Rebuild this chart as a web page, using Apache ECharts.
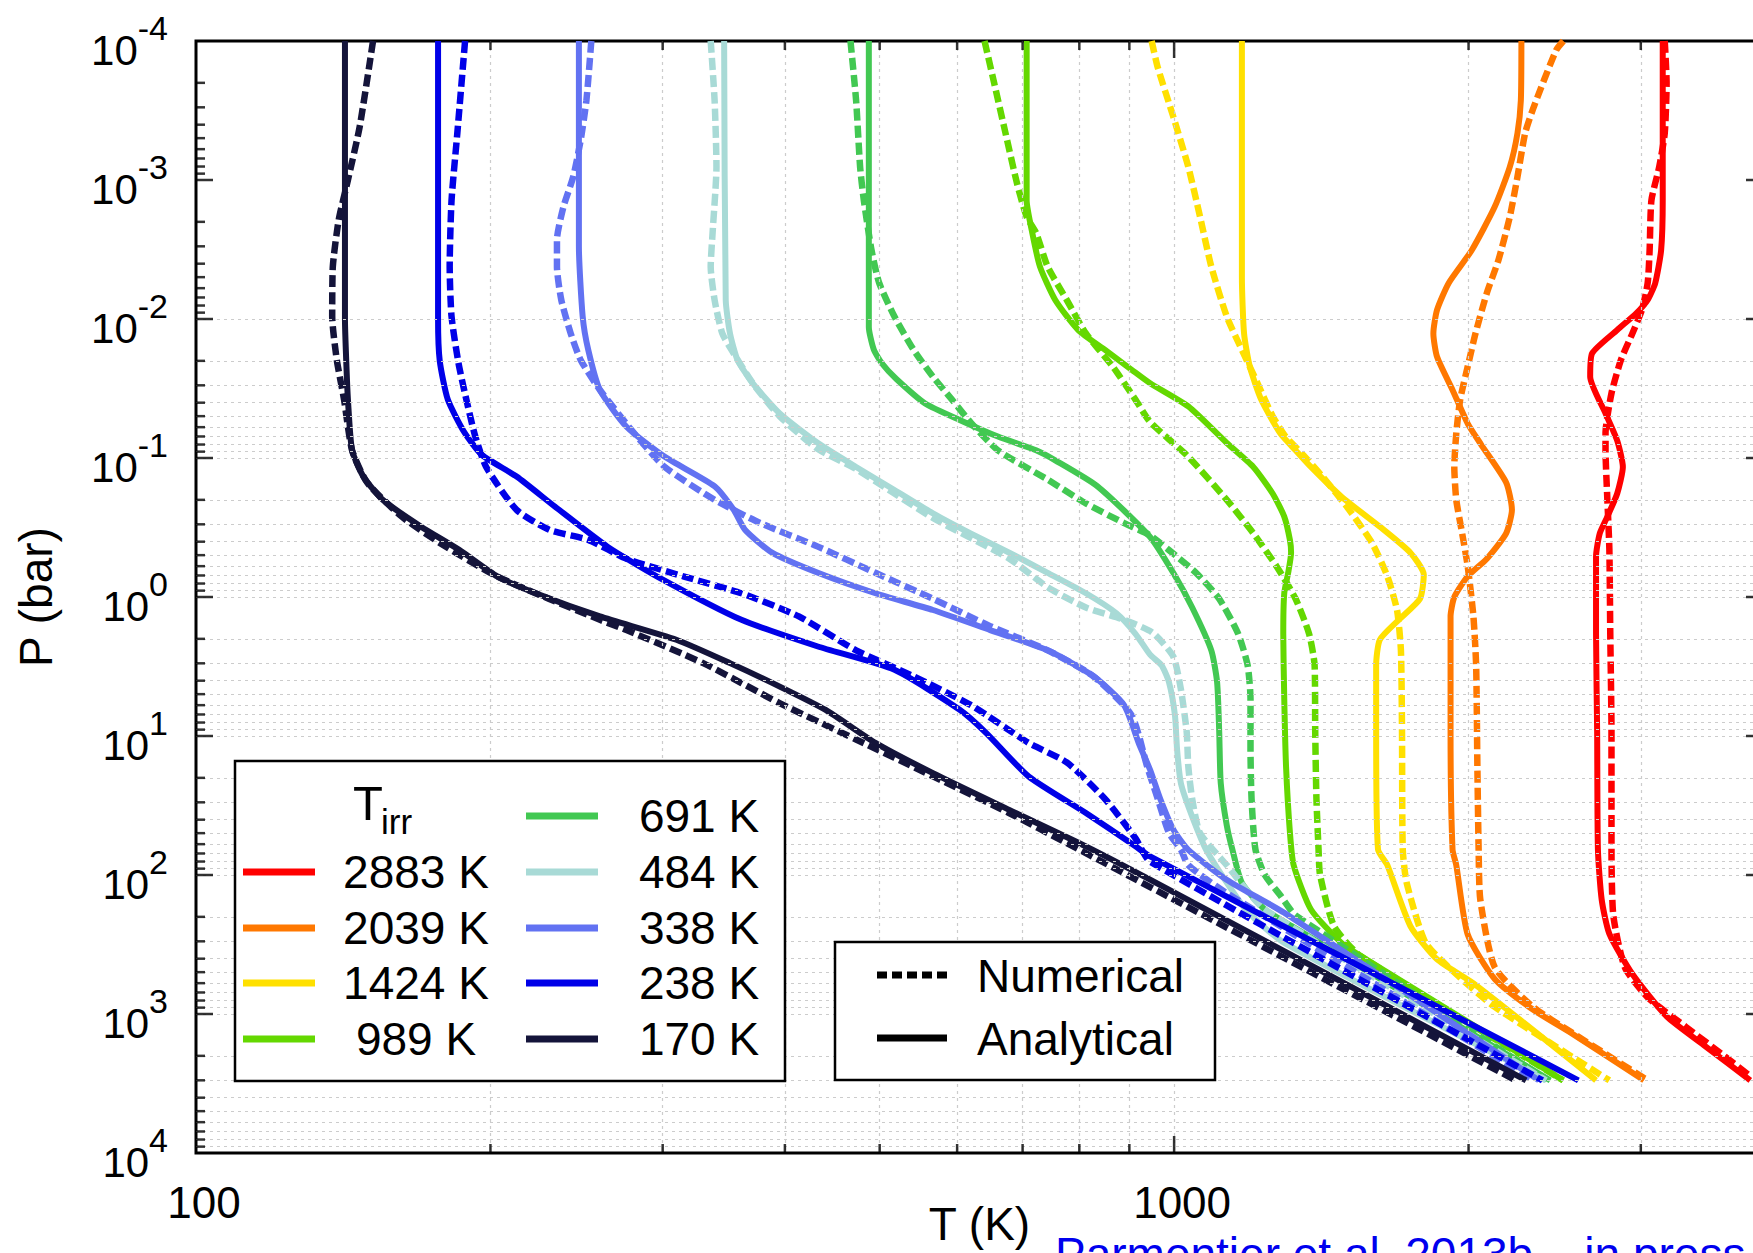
<!DOCTYPE html>
<html><head><meta charset="utf-8">
<script src="https://cdn.jsdelivr.net/npm/echarts@6/dist/echarts.min.js"></script>
<style>html,body{margin:0;padding:0;background:#fff}#main{width:1753px;height:1253px}</style>
</head><body><div id="main"></div>
<script>
// ---------------- DATA (T in K, P in bar) ----------------
const tirrValues = [2883, 2039, 1424, 989, 691, 484, 338, 238, 170];

const ana2883 = [[3159,1e-4],[3159,1.4e-3],[3147,3.2e-3],[3104,5.5e-3],[3049,7.3e-3],[2968,9.1e-3],[2838,0.012],[2675,0.0177],[2663,0.026],[2761,0.0478],[2838,0.075],[2876,0.116],[2838,0.18],[2773,0.264],[2724,0.348],[2700,0.51],[2700,1.84],[2707,9.3],[2712,65.6],[2736,150],[2786,265],[2941,515],[3188,1040],[3490,1700],[3882,3000]];
const num2883 = [[3174,1e-4],[3188,2e-4],[3174,4.6e-4],[3133,8.05e-4],[3076,1.4e-3],[3063,3.2e-3],[3049,5.5e-3],[3008,8.6e-3],[2941,0.0127],[2863,0.0197],[2800,0.0342],[2761,0.0665],[2761,0.088],[2773,0.2],[2786,0.45],[2792,1.84],[2800,9.3],[2800,65.6],[2812,195],[2889,460],[3049,760],[3337,1240],[3650,2000],[3882,2800]];

const ana2039 = [[2265,1e-4],[2262,2.67e-4],[2244,4.6e-4],[2204,8.05e-4],[2127,1.56e-3],[2015,3.2e-3],[1909,5.5e-3],[1857,8.6e-3],[1841,0.0127],[1857,0.0187],[1926,0.0324],[1996,0.0565],[2060,0.08],[2185,0.15],[2215,0.236],[2185,0.348],[2088,0.53],[1996,0.71],[1934,1.0],[1917,1.38],[1917,9.3],[1926,65.6],[1943,85],[1996,268],[2127,560],[2327,929],[2546,1370],[3022,3000]];
const num2039 = [[2500,1e-4],[2457,1.17e-4],[2327,3.1e-4],[2285,4.6e-4],[2244,9.5e-4],[2204,1.84e-3],[2146,3.76e-3],[2088,6.5e-3],[2033,0.0127],[1996,0.022],[1961,0.038],[1943,0.0665],[1934,0.116],[1943,0.2],[1970,0.348],[1996,0.6],[2023,1.38],[2036,3.1],[2042,16.6],[2048,65.6],[2056,150],[2127,460],[2327,888],[2546,1350],[3049,3000]];

const ana1424 = [[1173,1e-4],[1173,5e-3],[1179,0.0127],[1195,0.022],[1227.5,0.038],[1284,0.0665],[1331,0.088],[1380,0.116],[1483,0.19],[1623,0.312],[1744,0.48],[1800,0.69],[1784,1.03],[1697,1.46],[1623,2.03],[1609,3.1],[1609,9.3],[1616,65.6],[1652,85],[1744,233],[1857,404],[2033,617],[2700,3000]];
const num1424 = [[948.5,1e-4],[962,1.54e-4],[998,3.5e-4],[1034,8.05e-4],[1063,1.84e-3],[1091.5,4.2e-3],[1132,9.6e-3],[1173,0.0167],[1217,0.029],[1261,0.05],[1300,0.07],[1355,0.095],[1418,0.136],[1510,0.236],[1594,0.41],[1652,0.71],[1690,1.24],[1705.6,2.42],[1710,9.3],[1713,65.6],[1729,114],[1808,308],[1943,517],[2127,888],[2786,3000]];

const ana989 = [[706.7,1e-4],[706.7,1.4e-3],[716.1,2.4e-3],[729.2,4.2e-3],[755.9,7.3e-3],[798,0.012],[850,0.0167],[905,0.0232],[945,0.029],[1034,0.0426],[1132,0.078],[1205,0.116],[1261,0.18],[1296,0.264],[1313.5,0.39],[1317,0.48],[1308,0.67],[1296,0.94],[1293,1.84],[1296,5.4],[1301.5,16.6],[1313.5,49.8],[1325,85],[1380,177],[1483,308],[1594,430],[2499,3000]];
const num989 = [[640,1e-4],[654.6,2.0e-4],[672.4,4.6e-4],[690.9,1.06e-3],[706.7,1.84e-3],[722.6,2.4e-3],[742.5,4.2e-3],[776.7,7.3e-3],[812.5,0.0127],[865.5,0.022],[913,0.038],[945,0.055],[1034,0.098],[1132,0.2],[1205,0.348],[1272.5,0.6],[1331,1.03],[1374,1.84],[1392,3.1],[1394,9.3],[1398,28.4],[1405,65.6],[1410,100],[1457,233],[1551,383],[2499,3000]];

const ana691 = [[487.4,1e-4],[487.4,0.0114],[493,0.0165],[503,0.021],[520,0.027],[556.5,0.0405],[603.6,0.0532],[660.5,0.0701],[722.6,0.088],[755.9,0.104],[835,0.16],[945,0.37],[998,0.67],[1043.5,1.19],[1091.5,2.42],[1106.5,4.1],[1112,9.3],[1116,21.8],[1132,44],[1147,65.6],[1173,114],[1238,177],[1319,233],[2424,3000]];
const num691 = [[466.8,1e-4],[473,2.67e-4],[477.5,8.05e-4],[481.7,1.4e-3],[490.5,3.2e-3],[499.4,5.5e-3],[517.7,9.6e-3],[541.7,0.0167],[566.8,0.026],[592.8,0.038],[620,0.056],[660.5,0.088],[742.5,0.143],[812.5,0.212],[889,0.294],[945,0.36],[988,0.46],[1053,0.67],[1112,1.03],[1162.7,1.84],[1189,3.1],[1197,5.4],[1197,12.5],[1200,28.4],[1211,65.6],[1238,100],[1284,140],[1331,195],[2410,3000]];

const ana484 = [[346.7,1e-4],[348,7.3e-3],[351.5,0.0127],[357.8,0.0197],[370.9,0.029],[395.2,0.0478],[432.3,0.078],[473,0.116],[517.7,0.17],[566.8,0.25],[620,0.35],[678.4,0.48],[742.5,0.67],[812.5,0.94],[873,1.31],[913,1.84],[945,2.6],[971,3.1],[988,4.1],[1002,7.1],[1007,12.5],[1016,21.8],[1043.5,38],[1081,68],[1184,177],[1296,308],[2400,3000]];
const num484 = [[335.9,1e-4],[339,2.67e-4],[340.5,8.05e-4],[337.4,2.4e-3],[335.9,4.2e-3],[339,7.3e-3],[345.2,0.0127],[354.6,0.0177],[370.9,0.029],[395,0.05],[432,0.086],[473,0.12],[566.8,0.27],[678.4,0.53],[742.5,0.85],[812.5,1.19],[888.8,1.46],[950,1.8],[998,2.68],[1016,4.6],[1030,9.3],[1034,16.6],[1043.5,28.4],[1062.7,49.8],[1132,85],[1238,177],[2400,3000]];

const ana338 = [[246.3,1e-4],[246.3,3e-3],[248.5,9.6e-3],[251.8,0.0167],[258.8,0.0324],[275.5,0.0596],[301.5,0.098],[339.1,0.16],[354.6,0.236],[364.3,0.33],[388.1,0.48],[432.3,0.67],[495,0.94],[566.8,1.24],[648.5,1.73],[742.5,2.42],[827.2,3.72],[888.8,6.0],[922,11.7],[945,17.5],[968,28.4],[998,47],[1034,66],[1131.6,108],[1296,187],[2360,3000]];
const num338 = [[253.6,1e-4],[250.7,2.67e-4],[247.3,5.2e-4],[243,9.5e-4],[237.5,1.56e-3],[233.9,2.7e-3],[233.9,4.2e-3],[236.3,7.3e-3],[241.6,0.0127],[247.3,0.0197],[258.8,0.0324],[280.6,0.0665],[301.5,0.116],[339.1,0.2],[377.6,0.294],[432.3,0.434],[495,0.67],[566.8,1.03],[648.5,1.62],[742.5,2.42],[827,3.72],[905,7.1],[938.5,16.6],[962.3,28.4],[988,49.8],[1016,65.6],[1034,85],[1132,135],[2330,3000]];

const ana238 = [[176.8,1e-4],[176.8,0.01],[177.5,0.02],[180.9,0.038],[188,0.065],[196,0.095],[212.7,0.136],[232.8,0.224],[263.4,0.434],[296.2,0.713],[361.1,1.46],[432.3,2.27],[517.7,3.34],[603.6,6.48],[642.7,9.53],[709.8,19.5],[812.5,35.8],[913,62.2],[945,73.5],[2590,3000]];
const num238 = [[188.4,1e-4],[185,4.6e-4],[182.5,1.4e-3],[181.7,4.2e-3],[182.5,9.6e-3],[185.8,0.022],[192.6,0.0665],[198,0.116],[212.7,0.236],[230,0.33],[251.8,0.388],[275.5,0.53],[315.5,0.713],[361.1,0.94],[413.4,1.38],[473,2.42],[541.7,3.72],[620,6.0],[709.8,11.2],[776.7,15.5],[849.9,28.4],[913,54.4],[945,80],[2380,3000]];

const ana170 = [[142,1e-4],[142,0.01],[142.5,0.022],[143,0.038],[144.4,0.088],[148.3,0.136],[155.2,0.2],[169.9,0.312],[185.8,0.458],[203.4,0.713],[222.5,0.94],[258.8,1.38],[309.8,2.03],[351.5,2.99],[395.2,4.41],[440.3,6.49],[495,11.2],[566.8,18.5],[678.4,34],[812.5,62.2],[945,108],[2290,3000]];
const num170 = [[151.7,1e-4],[147,4.15e-4],[143,1e-3],[139.9,1.95e-3],[138,4.2e-3],[137.8,9.6e-3],[139.3,0.0197],[141.7,0.038],[144.4,0.088],[149.7,0.151],[162.3,0.264],[177.7,0.41],[203.4,0.713],[258.8,1.46],[275.5,1.73],[330,2.99],[395,5.8],[473,10.6],[566.8,19.5],[678,35.8],[776.7,58.9],[2245,3050]];

// axis ticks / grid values
const xMajorTicks = [1000];
const xMinorTicks = [200, 300, 400, 500, 600, 700, 800, 900, 2000, 3000];
const yMajorTicks = [1e-3, 1e-2, 1e-1, 1, 10, 100, 1000];
const yMinorTicks = [
  2e-4,3e-4,4e-4,5e-4,6e-4,7e-4,8e-4,9e-4,
  2e-3,3e-3,4e-3,5e-3,6e-3,7e-3,8e-3,9e-3,
  0.02,0.03,0.04,0.05,0.06,0.07,0.08,0.09,
  0.2,0.3,0.4,0.5,0.6,0.7,0.8,0.9,
  2,3,4,5,6,7,8,9,
  20,30,40,50,60,70,80,90,
  200,300,400,500,600,700,800,900,
  2000,3000,4000,5000,6000,7000,8000,9000];
const legendStyleLabels = ['Numerical', 'Analytical'];
const captionText = 'Parmentier et al. 2013b \u2013 in press';

// ---------------- STYLE ----------------
const colors = ['#ff0000','#ff7800','#ffe000','#64d800','#42c852','#a8dad6','#6272f2','#0000e8','#14143a'];
const analyticalSets = [ana2883, ana2039, ana1424, ana989, ana691, ana484, ana338, ana238, ana170];
const numericalSets  = [num2883, num2039, num1424, num989, num691, num484, num338, num238, num170];
const FONT = '"Liberation Sans", Arial, Helvetica, sans-serif';
const XMIN = 100, XMAX = 4000, YMIN = 1e-4, YMAX = 1e4;

const chart = echarts.init(document.getElementById('main'), null, {renderer: 'svg', width: 1753, height: 1253});

function curve(name, data, color, dashed) {
  return {
    type: 'line', name: name, data: data, showSymbol: false, symbol: 'none', smooth: 0.2,
    lineStyle: {color: color, width: dashed ? 6.5 : 6, type: dashed ? [12, 5] : 'solid', cap: 'butt', join: 'round'},
    z: 3, silent: true, animation: false, clip: true
  };
}
function tickSeries(data, size, offset, extra) {
  return Object.assign({
    type: 'scatter', data: data, symbol: 'rect', symbolSize: size, symbolOffset: offset,
    itemStyle: {color: '#000'}, silent: true, animation: false, clip: false, z: 5
  }, extra || {});
}

const series = [];
// grid lines + ticks
series.push(tickSeries(xMinorTicks.map(v => [v, YMAX]), [2.5, 9], [0, -4.5], {
  markLine: {
    silent: true, animation: false, symbol: ['none', 'none'], label: {show: false},
    emphasis: {disabled: true},
    lineStyle: {color: '#cccccc', width: 1.2, type: [3, 4]},
    data: xMinorTicks.concat(xMajorTicks).map(v => ({xAxis: v}))
      .concat(yMinorTicks.concat(yMajorTicks).map(v => ({yAxis: v})))
  }
}));
series.push(tickSeries(xMinorTicks.map(v => [v, YMIN]), [2.5, 9], [0, 4.5]));
series.push(tickSeries(xMajorTicks.map(v => [v, YMAX]), [2.5, 17], [0, -8.5]));
series.push(tickSeries(xMajorTicks.map(v => [v, YMIN]), [2.5, 17], [0, 8.5]));
series.push(tickSeries(yMinorTicks.map(v => [XMIN, v]), [9, 2.5], [4.5, 0]));
series.push(tickSeries(yMinorTicks.map(v => [XMAX, v]), [9, 2.5], [-4.5, 0]));
series.push(tickSeries(yMajorTicks.map(v => [XMIN, v]), [17, 2.5], [8.5, 0]));
series.push(tickSeries(yMajorTicks.map(v => [XMAX, v]), [17, 2.5], [-8.5, 0]));

tirrValues.forEach((t, i) => {
  series.push(curve(t + ' K analytical', analyticalSets[i], colors[i], false));
  series.push(curve(t + ' K numerical', numericalSets[i], colors[i], true));
});

// ---------------- LEGENDS (graphic) ----------------
const graphic = [];
const rowY = [816, 872, 928, 983, 1039];
graphic.push({type: 'rect', shape: {x: 235, y: 761, width: 550, height: 320}, style: {fill: '#fff', stroke: '#000', lineWidth: 2.5}, z: 100});
graphic.push({type: 'text', x: 353, y: 803, style: {text: 'T', fontSize: 49, fontFamily: FONT, fill: '#000', align: 'left', verticalAlign: 'middle'}, z: 101});
graphic.push({type: 'text', x: 381, y: 821, style: {text: 'irr', fontSize: 35, fontFamily: FONT, fill: '#000', align: 'left', verticalAlign: 'middle'}, z: 101});
tirrValues.forEach((t, i) => {
  const col = i < 4 ? 0 : 1;
  const row = i < 4 ? i + 1 : i - 4;
  const x1 = col === 0 ? 243 : 526, x2 = col === 0 ? 315 : 598, tx = col === 0 ? 416 : 699;
  const y = rowY[row];
  graphic.push({type: 'line', shape: {x1: x1, y1: y, x2: x2, y2: y}, style: {stroke: colors[i], lineWidth: 7}, z: 101});
  graphic.push({type: 'text', x: tx, y: y, style: {text: t + ' K', fontSize: 46, fontFamily: FONT, fill: '#000', align: 'center', verticalAlign: 'middle'}, z: 101});
});
graphic.push({type: 'rect', shape: {x: 835, y: 942, width: 380, height: 138}, style: {fill: '#fff', stroke: '#000', lineWidth: 2.5}, z: 100});
graphic.push({type: 'line', shape: {x1: 877, y1: 975, x2: 947, y2: 975}, style: {stroke: '#000', lineWidth: 7, lineDash: [10, 5]}, z: 101});
graphic.push({type: 'line', shape: {x1: 877, y1: 1038, x2: 947, y2: 1038}, style: {stroke: '#000', lineWidth: 7}, z: 101});
graphic.push({type: 'text', x: 977, y: 976, style: {text: legendStyleLabels[0], fontSize: 46, fontFamily: FONT, fill: '#000', align: 'left', verticalAlign: 'middle'}, z: 101});
graphic.push({type: 'text', x: 977, y: 1039, style: {text: legendStyleLabels[1], fontSize: 46, fontFamily: FONT, fill: '#000', align: 'left', verticalAlign: 'middle'}, z: 101});
graphic.push({type: 'text', x: 1055, y: 1254, style: {text: captionText, fontSize: 46, fontFamily: FONT, fill: '#0000ee', align: 'left', verticalAlign: 'middle'}, z: 101});

const option = {
  backgroundColor: '#ffffff',
  animation: false,
  grid: {left: 196, top: 41, right: -10, bottom: 100, show: true, borderColor: '#000', borderWidth: 3, backgroundColor: 'rgba(0,0,0,0)', containLabel: false, outerBoundsMode: 'none'},
  xAxis: {
    type: 'log', logBase: 10, min: XMIN, max: XMAX, interval: 1,
    axisLine: {show: false}, axisTick: {show: false}, splitLine: {show: false}, minorTick: {show: false},
    axisLabel: {formatter: v => String(Math.round(v)), fontSize: 44, lineHeight: 44, fontFamily: FONT, color: '#000', margin: 27, showMinLabel: true, showMaxLabel: false, padding: [0, 0, 0, 16]},
    name: 'T (K)', nameLocation: 'middle', nameGap: 48, nameMoveOverlap: false,
    nameTextStyle: {fontSize: 46, fontFamily: FONT, color: '#000'}
  },
  yAxis: {
    type: 'log', logBase: 10, min: YMIN, max: YMAX, interval: 1, inverse: true,
    axisLine: {show: false}, axisTick: {show: false}, splitLine: {show: false}, minorTick: {show: false},
    axisLabel: {
      formatter: v => '{b|10}{s|' + Math.round(Math.log10(v)) + '}',
      margin: 28, showMinLabel: true, showMaxLabel: true,
      rich: {
        b: {fontSize: 42, fontFamily: FONT, color: '#000', verticalAlign: 'bottom', padding: [18, 0, 0, 0]},
        s: {fontSize: 34, fontFamily: FONT, color: '#000', verticalAlign: 'top'}
      }
    },
    name: 'P (bar)', nameLocation: 'middle', nameGap: 137, nameRotate: 90, nameMoveOverlap: false,
    nameTextStyle: {fontSize: 46, fontFamily: FONT, color: '#000'}
  },
  series: series,
  graphic: graphic
};
chart.setOption(option);
</script></body></html>
